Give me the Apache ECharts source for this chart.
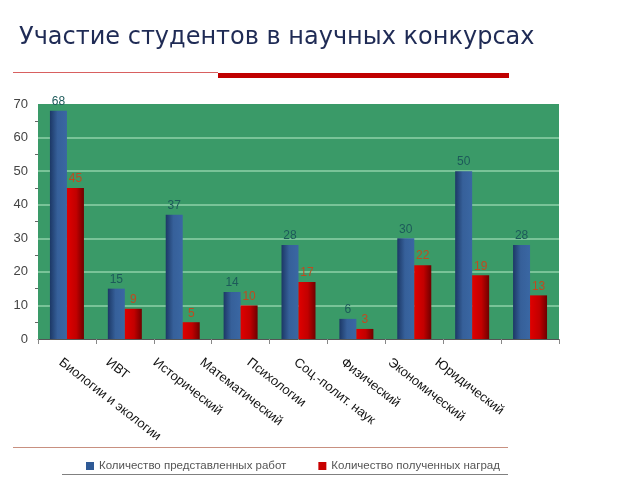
<!DOCTYPE html>
<html><head><meta charset="utf-8">
<script src="https://cdn.jsdelivr.net/npm/echarts@6/dist/echarts.min.js"></script>
<style>html,body{margin:0;padding:0;background:#fff}#c{width:640px;height:480px}</style>
</head><body><div id="c"></div>
<script>
var categories = ['Биологии и экологии','ИВТ','Исторический','Математический','Психологии','Соц.-полит. наук','Физический','Экономический','Юридический'];
var works = [68,15,37,14,28,6,30,50,28];
var awards = [45,9,5,10,17,3,22,19,13];
var seriesNames = ['Количество представленных работ','Количество полученных наград'];
var titleText = 'Участие студентов в научных конкурсах';

var chart = echarts.init(document.getElementById('c'), null, {renderer:'canvas'});
var blueGrad = new echarts.graphic.LinearGradient(0,0,1,0,[{offset:0,color:'#1c3866'},{offset:0.45,color:'#36609a'},{offset:1,color:'#3a67a3'}]);
var redGrad = new echarts.graphic.LinearGradient(0,0,1,0,[{offset:0,color:'#e00000'},{offset:0.55,color:'#c20000'},{offset:1,color:'#6e0000'}]);
chart.setOption({
  animation:false,
  backgroundColor:'#ffffff',
  title:{text:titleText,left:14,top:21,textStyle:{fontFamily:'DejaVu Sans',fontSize:24,fontWeight:'normal',color:'#1f2b55'}},
  graphic:[
    {type:'rect',shape:{x:13,y:72,width:205,height:1},style:{fill:'#d86060'}},
    {type:'rect',shape:{x:218,y:73,width:291,height:5},style:{fill:'#c00000'}},
    {type:'rect',shape:{x:13,y:447,width:495,height:1},style:{fill:'#c89080'}},
    {type:'rect',shape:{x:62,y:474,width:446,height:1},style:{fill:'#808080'}}
  ],
  legend:{left:81,top:455,itemWidth:8,itemHeight:8,itemGap:32,icon:'rect',
    textStyle:{fontFamily:'Liberation Sans',fontSize:11.5,color:'#555555'},
    data:[{name:seriesNames[0],itemStyle:{color:'#2f5a96'}},{name:seriesNames[1],itemStyle:{color:'#c80000'}}]},
  grid:[{left:38,right:81,top:104,bottom:141,show:true,backgroundColor:'#3a9a68',borderWidth:0},
        {left:37,width:423,top:104,bottom:141,show:false}],
  xAxis:[{type:'category',gridIndex:0,data:categories,
    axisLine:{show:true,lineStyle:{color:'#555555',width:1}},
    axisTick:{show:true,interval:0,length:5,lineStyle:{color:'#888888'}},
    axisLabel:{show:false}},
   {type:'category',gridIndex:1,data:categories,
    axisLine:{show:false},axisTick:{show:false},
    axisLabel:{show:true,interval:0,rotate:-38,margin:22,align:'left',
      fontFamily:'Liberation Sans',fontSize:13,color:'#111111'}}],
  yAxis:[{type:'value',gridIndex:0,min:0,max:70,interval:10,
    axisLine:{show:false},
    axisTick:{show:false},
    minorTick:{show:true,splitNumber:2,length:3,lineStyle:{color:'#666666'}},
    splitLine:{show:true,showMaxLine:false,showMinLine:false,lineStyle:{color:'#8fd0a8',width:1.5}},
    axisLabel:{margin:10,fontFamily:'Liberation Sans',fontSize:13,color:'#444444'}},
   {type:'value',gridIndex:1,show:false,min:0,max:70}],
  series:[
    {name:seriesNames[0],type:'bar',xAxisIndex:0,yAxisIndex:0,data:works,barWidth:17,barGap:'0%',
     itemStyle:{color:blueGrad},
     label:{show:true,position:'top',distance:3,fontFamily:'Liberation Sans',fontSize:12,color:'#1d5a5a'}},
    {name:seriesNames[1],type:'bar',xAxisIndex:0,yAxisIndex:0,data:awards,barWidth:17,barGap:'0%',
     itemStyle:{color:redGrad},
     label:{show:true,position:'top',distance:3,fontFamily:'Liberation Sans',fontSize:12,color:'#c04a20'}}
  ]
});
</script></body></html>
